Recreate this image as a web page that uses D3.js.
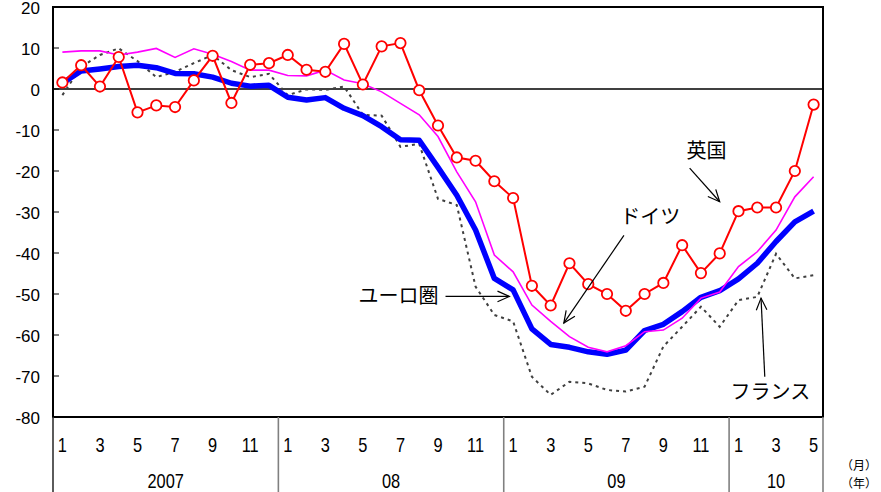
<!DOCTYPE html>
<html><head><meta charset="utf-8">
<script src="https://cdn.jsdelivr.net/npm/d3@7"></script>
<style>
html,body{margin:0;padding:0;background:#fff;}
svg{display:block;}
</style>
</head><body>
<svg id="c" width="881" height="492"></svg>
<script>
// ---- data (monthly, Jan 2007 – May 2010) ----
const years = ["2007","08","09","10"];
const monthsPerYear = [12,12,12,5];
const yTicks = [20,10,0,-10,-20,-30,-40,-50,-60,-70,-80];

const uk = [1.6,5.8,0.6,7.8,-5.7,-4.0,-4.4,2.1,8.1,-3.4,5.9,6.3,
            8.3,4.7,4.2,11.0,1.1,10.4,11.2,-0.3,-8.9,-16.7,-17.5,-22.5,
            -26.6,-48.0,-52.8,-42.5,-47.6,-50.0,-54.1,-50.0,-47.3,-38.1,-44.9,-40.1,
            -29.8,-28.9,-28.9,-20.0,-3.8];
const euro = [1.4,4.4,4.9,5.5,5.8,5.2,3.8,3.7,2.9,1.4,0.7,0.9,
            -2.0,-2.7,-2.1,-4.7,-6.5,-9.2,-12.4,-12.5,-19.1,-25.9,-34.4,-46.2,
            -49.0,-58.5,-62.3,-63.0,-64.1,-64.7,-63.7,-58.9,-57.4,-54.3,-50.8,-49.2,
            -46.3,-42.5,-37.2,-32.4,-29.8];
const germany = [9.0,9.3,9.3,8.3,9.0,9.9,7.7,9.8,8.5,6.7,4.6,4.6,
            3.3,3.2,4.6,2.2,1.3,-0.7,-3.5,-6.3,-11.6,-20.2,-27.5,-40.5,
            -44.6,-52.7,-56.7,-60.4,-63.0,-64.1,-62.6,-59.2,-58.8,-55.9,-51.0,-49.5,
            -43.3,-39.7,-34.4,-26.3,-21.4];
const france = [-1.5,5.4,8.3,9.9,6.8,2.9,4.2,6.3,8.3,4.6,2.9,3.7,
            -1.5,-0.1,-0.2,0.6,-6.3,-6.5,-14.1,-13.4,-26.8,-28.3,-48.2,-55.1,
            -56.7,-70.2,-74.6,-71.4,-71.8,-73.4,-73.8,-72.6,-62.8,-58.0,-53.1,-58.0,
            -51.5,-50.7,-40.2,-46.2,-45.4];

// annotations in data coordinates: [monthIndex, value]
const labels = [
  {text:"英国", at:[34.3,-15.2], from:[33.4,-19.3], to:[35.0,-27.5]},
  {text:"ドイツ", at:[31.3,-31.2], from:[29.9,-35.7], to:[26.7,-57.1]},
  {text:"ユーロ圏", at:[17.9,-50.6], from:[20.4,-50.6], to:[23.8,-50.6]},
  {text:"フランス", at:[37.7,-73.9], from:[37.4,-70.2], to:[37.2,-51.0]}
];

// ---- build ----
const months = [];
years.forEach((y,yi)=>{for(let m=1;m<=monthsPerYear[yi];m++)months.push({y:yi,m});});
const idx = months.map((d,i)=>i);

const L=53,R=823,T=7,B=417;
const svg = d3.select("#c");
const x = d3.scaleBand().domain(idx).range([L,R]).padding(0);
const cx = i => x(i)+x.bandwidth()/2;
const xf = f => L + (f+0.5)*x.bandwidth();
const y = d3.scaleLinear().domain([-80,20]).range([B,T]);

// y tick labels
svg.append("g").selectAll("text").data(yTicks).join("text")
  .attr("x",40).attr("y",d=>y(d)+1).attr("dy","0.36em")
  .attr("text-anchor","end")
  .style("font-family","'Liberation Sans',Arial,sans-serif").style("font-size","17px")
  .text(d=>d);
// inner ticks
svg.append("g").selectAll("line").data(yTicks).join("line")
  .attr("x1",L).attr("x2",L+6).attr("y1",d=>y(d)).attr("y2",d=>y(d))
  .attr("stroke","#000").attr("stroke-width",1);

// zero line
svg.append("line").attr("x1",L).attr("x2",R).attr("y1",y(0)).attr("y2",y(0))
  .attr("stroke","#000").attr("stroke-width",1.3);

const line = d3.line().x((d,i)=>cx(i)).y(d=>y(d));

// France (dotted)
svg.append("path").datum(france).attr("d",line).attr("fill","none")
  .attr("stroke","#404040").attr("stroke-width",2).attr("stroke-dasharray","3,4");
// Euro area (thick blue)
svg.append("path").datum(euro).attr("d",line).attr("fill","none")
  .attr("stroke","#0000ff").attr("stroke-width",5.5).attr("stroke-linejoin","round");
// Germany (magenta)
svg.append("path").datum(germany).attr("d",line).attr("fill","none")
  .attr("stroke","#ff00ff").attr("stroke-width",1.6);
// UK (red with circles)
svg.append("path").datum(uk).attr("d",line).attr("fill","none")
  .attr("stroke","#ff0000").attr("stroke-width",2);
svg.append("g").selectAll("circle").data(uk).join("circle")
  .attr("cx",(d,i)=>cx(i)).attr("cy",d=>y(d)).attr("r",5.2)
  .attr("fill","#fff").attr("stroke","#ff0000").attr("stroke-width",1.8);

// frame
svg.append("rect").attr("x",L).attr("y",T).attr("width",R-L).attr("height",B-T)
  .attr("fill","none").attr("stroke","#000").attr("stroke-width",2);

// x axis category box
let start=0;
const seps=[L];
years.forEach((yr,yi)=>{ if(yi>0) seps.push(x(start)); start+=monthsPerYear[yi]; });
seps.push(R);
svg.append("g").selectAll("line").data(seps).join("line")
  .attr("x1",d=>d).attr("x2",d=>d).attr("y1",B).attr("y2",492)
  .attr("stroke",(d,i)=>i===0?"#333":"#808080").attr("stroke-width",1.6);

const numFont = "'Liberation Sans',Arial,sans-serif";
svg.append("g").selectAll("text").data(months.map((d,i)=>({...d,i})).filter(d=>d.m%2===1)).join("text")
  .attr("transform",d=>`translate(${cx(d.i)},${452}) scale(0.82,1)`)
  .attr("text-anchor","middle")
  .style("font-family",numFont).style("font-size","20px")
  .text(d=>d.m);
start=0;
const yrPos=[];
years.forEach((yr,yi)=>{const a=x(start), b=x(start+monthsPerYear[yi]-1)+x.bandwidth(); yrPos.push({yr,c:(a+b)/2}); start+=monthsPerYear[yi];});
svg.append("g").selectAll("text").data(yrPos).join("text")
  .attr("transform",d=>`translate(${d.c},${488}) scale(0.82,1)`)
  .attr("text-anchor","middle")
  .style("font-family",numFont).style("font-size","20px")
  .text(d=>d.yr);

const cjk = "'Noto Sans CJK JP','Noto Sans CJK SC',sans-serif";
svg.append("text").attr("x",859).attr("y",470).attr("text-anchor","middle")
  .style("font-family",cjk).style("font-size","12px").text("（月）");
svg.append("text").attr("x",859).attr("y",488).attr("text-anchor","middle")
  .style("font-family",cjk).style("font-size","12px").text("（年）");

// annotations
const ann = svg.append("g");
labels.forEach(a=>{
  ann.append("text").attr("x",xf(a.at[0])).attr("y",y(a.at[1])).attr("dy","0.35em")
    .attr("text-anchor","middle")
    .style("font-family",cjk).style("font-size","20px").text(a.text);
  const x1=xf(a.from[0]), y1=y(a.from[1]), x2=xf(a.to[0]), y2=y(a.to[1]);
  ann.append("line").attr("x1",x1).attr("y1",y1).attr("x2",x2).attr("y2",y2)
    .attr("stroke","#000").attr("stroke-width",1.2);
  const ang=Math.atan2(y2-y1,x2-x1), len=13, sp=0.42;
  const p = s=>[x2-len*Math.cos(ang+s), y2-len*Math.sin(ang+s)];
  const p1=p(sp), p2=p(-sp);
  ann.append("path").attr("d",`M${p1[0]},${p1[1]}L${x2},${y2}L${p2[0]},${p2[1]}`)
    .attr("fill","none").attr("stroke","#000").attr("stroke-width",1.2);
});
</script>
</body></html>
